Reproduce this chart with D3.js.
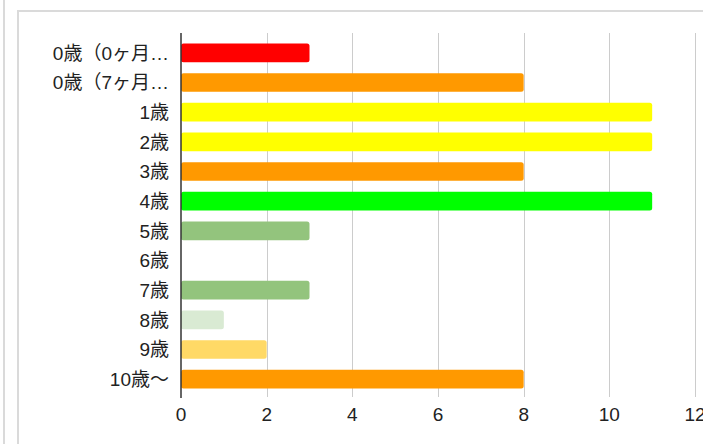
<!DOCTYPE html>
<html>
<head>
<meta charset="utf-8">
<script src="https://cdn.jsdelivr.net/npm/d3@7"></script>
<style>
  html, body { margin: 0; padding: 0; background: #fff; overflow: hidden; }
  svg { display: block; font-family: "Liberation Sans", Arial, "Noto Sans CJK JP", sans-serif; }
</style>
</head>
<body>
<script>
const categories = ['0歳（0ヶ月…', '0歳（7ヶ月…', '1歳', '2歳', '3歳', '4歳', '5歳', '6歳', '7歳', '8歳', '9歳', '10歳〜'];
const counts = [3, 8, 11, 11, 8, 11, 3, 0, 3, 1, 2, 8];
const barColors = ['#ff0000', '#ff9900', '#ffff00', '#ffff00', '#ff9900', '#00ff00',
                   '#93c47d', '#93c47d', '#93c47d', '#d9ead3', '#ffd966', '#ff9900'];
const xTicks = [0, 2, 4, 6, 8, 10, 12];

const W = 703, H = 444;
const plot = { left: 181, right: 695, top: 33, bottom: 397 };

const rows = categories.map((c, i) => ({ cat: c, value: counts[i], color: barColors[i] }));

const svg = d3.select('body').append('svg')
    .attr('width', W)
    .attr('height', H);

// page frame bits
svg.append('line')
    .attr('x1', 4).attr('x2', 4).attr('y1', 0).attr('y2', H)
    .attr('stroke', '#dadada').attr('stroke-width', 2);
svg.append('path')
    .attr('d', 'M18,' + H + 'V11H' + W)
    .attr('fill', 'none')
    .attr('stroke', '#dadada').attr('stroke-width', 2);

const x = d3.scaleLinear()
    .domain([0, 12])
    .range([plot.left, plot.right]);

const y = d3.scaleBand()
    .domain(categories)
    .range([38, 394])
    .paddingInner(0.37)
    .paddingOuter(0.185);

// gridlines
svg.append('g')
    .selectAll('line')
    .data(xTicks.filter(t => t > 0))
    .join('line')
    .attr('x1', d => Math.round(x(d)) + 0.5)
    .attr('x2', d => Math.round(x(d)) + 0.5)
    .attr('y1', plot.top)
    .attr('y2', plot.bottom)
    .attr('stroke', '#cccccc')
    .attr('stroke-width', 1);

// bars
svg.append('g')
    .selectAll('rect')
    .data(rows.filter(d => d.value > 0))
    .join('rect')
    .attr('x', x(0))
    .attr('y', d => y(d.cat))
    .attr('width', d => x(d.value) - x(0))
    .attr('height', y.bandwidth())
    .attr('rx', 2.5)
    .attr('fill', d => d.color);

// baseline
svg.append('line')
    .attr('x1', x(0)).attr('x2', x(0))
    .attr('y1', plot.top).attr('y2', plot.bottom + 1)
    .attr('stroke', '#333').attr('stroke-width', 1.5);

// category labels
svg.append('g')
    .selectAll('text')
    .data(categories)
    .join('text')
    .attr('x', 169)
    .attr('y', d => y(d) + y.bandwidth() / 2)
    .attr('dy', '0.36em')
    .attr('text-anchor', 'end')
    .attr('font-size', 19)
    .attr('fill', '#222')
    .text(d => d);

// value axis labels
svg.append('g')
    .selectAll('text')
    .data(xTicks)
    .join('text')
    .attr('x', d => x(d))
    .attr('y', 414)
    .attr('dy', '0.36em')
    .attr('text-anchor', 'middle')
    .attr('font-size', 19)
    .attr('fill', '#222')
    .text(d => d);
</script>
</body>
</html>
